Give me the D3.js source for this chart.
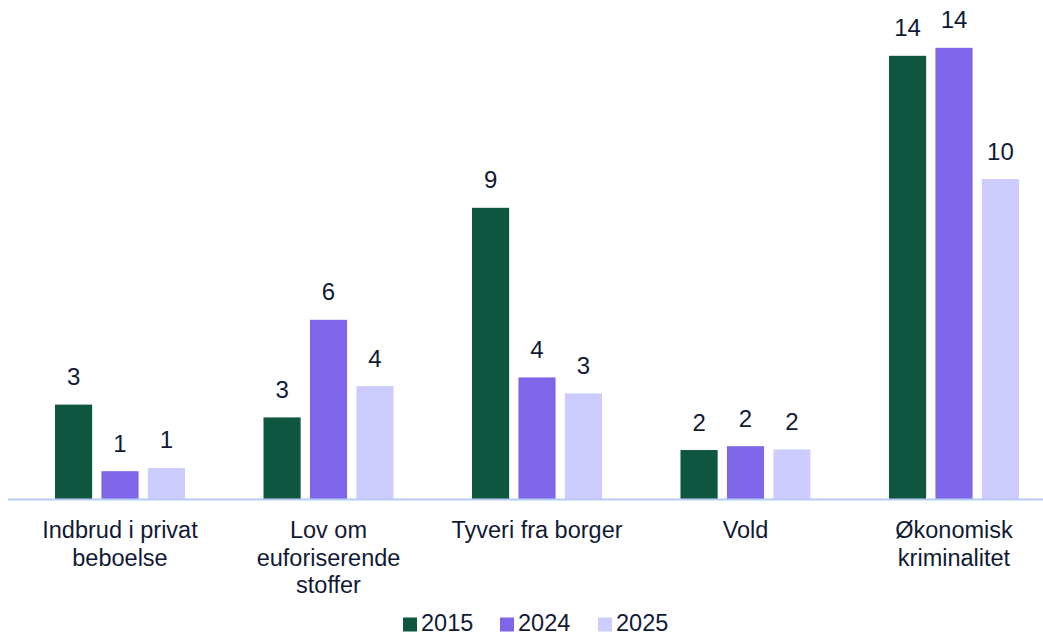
<!DOCTYPE html>
<html><head><meta charset="utf-8">
<script src="https://cdn.jsdelivr.net/npm/d3@7"></script>
<style>body{margin:0;background:#fff}svg{display:block}</style>
</head><body>
<svg id="c" width="1043" height="636"></svg>
<script>
const categories = [["Indbrud i privat","beboelse"],["Lov om","euforiserende","stoffer"],["Tyveri fra borger"],["Vold"],["Økonomisk","kriminalitet"]];
const seriesNames = ["2015","2024","2025"];
const values2015 = [2.95, 2.55, 9.1, 1.53, 13.85];
const values2024 = [0.87, 5.6, 3.8, 1.65, 14.1];
const values2025 = [0.97, 3.53, 3.3, 1.55, 10.0];
const colors = ["#0f5640","#7f66e9","#cccdfe"];
const series = [values2015, values2024, values2025];

const svg = d3.select("#c");
const font = "'Liberation Sans', Arial, sans-serif";
const txt = "#111a35";
const keys = categories.map((d,i)=>i);
const x0 = d3.scaleBand().domain(keys).range([15.75, 1058.25]).paddingInner(0).paddingOuter(0);
const x1 = d3.scaleBand().domain(seriesNames).range([0, 130]).paddingInner(0.2).paddingOuter(0);
const y = d3.scaleLinear().domain([0, 15]).range([499, 19]);
const off = (x0.bandwidth() - 130) / 2;

series.forEach((vals, si) => {
  const g = svg.append("g");
  g.selectAll("rect").data(vals).join("rect")
    .attr("x", (d,i) => x0(i) + off + x1(seriesNames[si]))
    .attr("y", d => y(d))
    .attr("width", x1.bandwidth())
    .attr("height", d => y(0) - y(d))
    .attr("fill", colors[si]);
  g.selectAll("text").data(vals).join("text")
    .attr("x", (d,i) => x0(i) + off + x1(seriesNames[si]) + x1.bandwidth()/2)
    .attr("y", d => y(d) - 19.5)
    .attr("text-anchor","middle")
    .attr("font-family", font).attr("font-size", 24).attr("fill", txt)
    .text(d => Math.round(d));
});

svg.append("line").attr("x1",8).attr("x2",1043).attr("y1",499.5).attr("y2",499.5)
  .attr("stroke","#b8cbf5").attr("stroke-width",2);

const cl = svg.append("g");
categories.forEach((lines, i) => {
  const t = cl.append("text").attr("text-anchor","middle")
    .attr("font-family", font).attr("font-size", 23.5).attr("fill", txt);
  lines.forEach((l, j) => {
    t.append("tspan").attr("x", x0(i) + x0.bandwidth()/2).attr("y", 538 + j*27.5).text(l);
  });
});

const legendX = [403, 500, 598];
const lg = svg.append("g");
seriesNames.forEach((s, i) => {
  lg.append("rect").attr("x", legendX[i]).attr("y", 617.5).attr("width", 14).attr("height", 14).attr("fill", colors[i]);
  lg.append("text").attr("x", legendX[i] + 18).attr("y", 631)
    .attr("font-family", font).attr("font-size", 23.5).attr("fill", txt).text(s);
});
</script>
</body></html>
